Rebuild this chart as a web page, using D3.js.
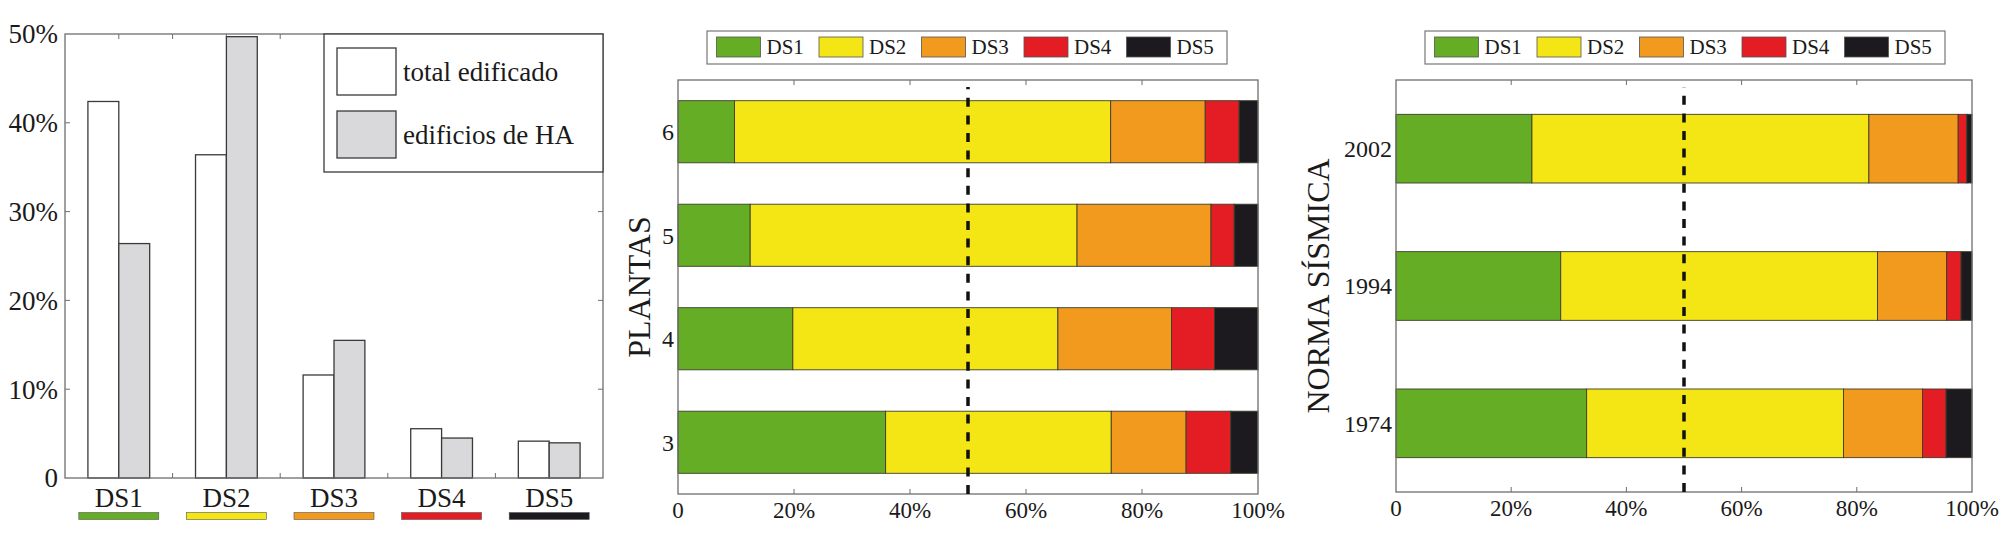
<!DOCTYPE html>
<html>
<head>
<meta charset="utf-8">
<script src="https://cdn.jsdelivr.net/npm/d3@7"></script>
<style>
  body { margin: 0; background: #fff; }
  svg text { font-family: "Liberation Serif", "DejaVu Serif", serif; fill: #1a1a1a; }
</style>
</head>
<body>
<script>
// damage states, shared by the three panels
const damageStates = ["DS1", "DS2", "DS3", "DS4", "DS5"]
const dsColors = ["#65ad24", "#f4e614", "#f29a1d", "#e41d25", "#1c1a1f"]

// left panel: share of buildings per damage state (%)
const totalEdificado = [42.4, 36.4, 11.6, 5.55, 4.15]
const edificiosHA = [26.4, 49.7, 15.5, 4.5, 3.96]
const pctTicksLeft = [0, 10, 20, 30, 40, 50]

// middle panel: number of storeys (%)
const plantasCats = ["3", "4", "5", "6"]
const plantasDS1 = [35.8, 19.8, 12.45, 9.75]
const plantasDS2 = [38.9, 45.7, 56.35, 64.85]
const plantasDS3 = [12.9, 19.6, 23.1, 16.3]
const plantasDS4 = [7.7, 7.4, 4.0, 5.85]
const plantasDS5 = [4.7, 7.5, 4.1, 3.25]

// right panel: seismic code (%)
const normaCats = ["1974", "1994", "2002"]
const normaDS1 = [33.1, 28.6, 23.6]
const normaDS2 = [44.6, 55.0, 58.5]
const normaDS3 = [13.7, 12.0, 15.5]
const normaDS4 = [4.1, 2.5, 1.5]
const normaDS5 = [4.5, 1.9, 0.9]

const pctTicks = [0, 20, 40, 60, 80, 100]
const pctLabel = d => d === 0 ? "0" : d + "%"

const width = 2008
const height = 540
const frameColor = "#6e6e6e"
const tickLen = 5

const svg = d3.select("body")
  .append("svg")
  .attr("width", width)
  .attr("height", height)

// ---------- left panel: grouped bars ----------
function drawGrouped() {
  let m = {left: 65, right: 603, top: 34, bottom: 478}
  const g = svg.append("g")

  let x = d3.scaleBand()
    .domain(damageStates)
    .range([m.left, m.right])
    .padding(0)

  let inner = d3.scaleBand()
    .domain(["total", "ha"])
    .range([0, x.bandwidth() * 0.574])

  let y = d3.scaleLinear()
    .domain([0, 50])
    .range([m.bottom, m.top])

  // ticks at every half category, top and bottom, drawn under the bars
  const halfTicks = d3.range(1, damageStates.length * 2).map(i => m.left + i * x.bandwidth() / 2)
  halfTicks.forEach(t => {
    g.append("line").attr("x1", t).attr("x2", t).attr("y1", m.bottom).attr("y2", m.bottom - tickLen)
      .attr("stroke", frameColor)
    g.append("line").attr("x1", t).attr("x2", t).attr("y1", m.top).attr("y2", m.top + tickLen)
      .attr("stroke", frameColor)
  })
  pctTicksLeft.slice(1, -1).forEach(t => {
    g.append("line").attr("x1", m.left).attr("x2", m.left + tickLen).attr("y1", y(t)).attr("y2", y(t))
      .attr("stroke", frameColor)
    g.append("line").attr("x1", m.right).attr("x2", m.right - tickLen).attr("y1", y(t)).attr("y2", y(t))
      .attr("stroke", frameColor)
  })

  const offset = (x.bandwidth() - inner.range()[1]) / 2
  const rows = damageStates.map((ds, i) => ({ds, total: totalEdificado[i], ha: edificiosHA[i]}))

  rows.forEach(r => {
    g.append("rect")
      .attr("x", x(r.ds) + offset + inner("total"))
      .attr("y", y(r.total))
      .attr("width", inner.bandwidth())
      .attr("height", y(0) - y(r.total))
      .attr("fill", "#fff")
      .attr("stroke", "#3a3a3a")
      .attr("stroke-width", 1.3)
    g.append("rect")
      .attr("x", x(r.ds) + offset + inner("ha"))
      .attr("y", y(r.ha))
      .attr("width", inner.bandwidth())
      .attr("height", y(0) - y(r.ha))
      .attr("fill", "#d9d9db")
      .attr("stroke", "#3a3a3a")
      .attr("stroke-width", 1.3)
  })

  // frame
  g.append("rect")
    .attr("x", m.left).attr("y", m.top)
    .attr("width", m.right - m.left).attr("height", m.bottom - m.top)
    .attr("fill", "none").attr("stroke", frameColor).attr("stroke-width", 1.3)

  // y tick labels
  g.selectAll(".ylab")
    .data(pctTicksLeft)
    .join("text")
    .attr("x", m.left - 7)
    .attr("y", d => y(d))
    .attr("dy", "0.35em")
    .attr("text-anchor", "end")
    .attr("font-size", 27)
    .text(d => d === 0 ? "0" : d + "%")

  // category labels with coloured keys
  damageStates.forEach((ds, i) => {
    const cx = x(ds) + x.bandwidth() / 2
    g.append("text")
      .attr("x", cx).attr("y", 507)
      .attr("text-anchor", "middle")
      .attr("font-size", 27)
      .text(ds)
    g.append("rect")
      .attr("x", cx - 40).attr("y", 512.5)
      .attr("width", 80).attr("height", 7)
      .attr("fill", dsColors[i])
      .attr("stroke", "#555").attr("stroke-width", 0.6)
  })

  // legend
  const lg = g.append("g")
  lg.append("rect")
    .attr("x", 324).attr("y", m.top)
    .attr("width", m.right - 324).attr("height", 172 - m.top)
    .attr("fill", "#fff").attr("stroke", "#3a3a3a").attr("stroke-width", 1.3)
  const legendItems = [["total edificado", "#fff"], ["edificios de HA", "#d9d9db"]]
  legendItems.forEach((item, i) => {
    const top = 48 + i * 63
    lg.append("rect")
      .attr("x", 337).attr("y", top)
      .attr("width", 59).attr("height", 47)
      .attr("fill", item[1]).attr("stroke", "#3a3a3a").attr("stroke-width", 1.3)
    lg.append("text")
      .attr("x", 403).attr("y", top + 33)
      .attr("font-size", 27)
      .text(item[0])
  })
}

// ---------- stacked horizontal bars ----------
function drawStacked(cfg) {
  let m = cfg.margin
  const g = svg.append("g")

  const rows = cfg.cats.map((c, i) => {
    const r = {cat: c}
    damageStates.forEach((ds, k) => { r[ds] = cfg.series[k][i] })
    return r
  })
  const stacked = d3.stack().keys(damageStates)(rows)

  let x = d3.scaleLinear()
    .domain([0, 100])
    .range([m.left, m.right])

  let y = d3.scaleLinear()
    .domain([0.5, cfg.cats.length + 0.5])
    .range([m.bottom, m.top])

  // x ticks top and bottom
  pctTicks.slice(1, -1).forEach(t => {
    g.append("line").attr("x1", x(t)).attr("x2", x(t)).attr("y1", m.bottom).attr("y2", m.bottom - tickLen)
      .attr("stroke", frameColor)
    g.append("line").attr("x1", x(t)).attr("x2", x(t)).attr("y1", m.top).attr("y2", m.top + tickLen)
      .attr("stroke", frameColor)
  })

  const half = cfg.barWidth / 2
  g.selectAll(".series")
    .data(stacked)
    .join("g")
    .attr("fill", (d, i) => dsColors[i])
    .selectAll("rect")
    .data(d => d.map((s, i) => ({s, i})))
    .join("rect")
    .attr("x", d => x(d.s[0]))
    .attr("y", d => y(d.i + 1 + half))
    .attr("width", d => x(d.s[1]) - x(d.s[0]))
    .attr("height", d => y(d.i + 1 - half) - y(d.i + 1 + half))
    .attr("stroke", "#3d3d2a")
    .attr("stroke-width", 0.9)

  // frame
  g.append("rect")
    .attr("x", m.left).attr("y", m.top)
    .attr("width", m.right - m.left).attr("height", m.bottom - m.top)
    .attr("fill", "none").attr("stroke", frameColor).attr("stroke-width", 1.3)

  // 50% reference
  g.append("line")
    .attr("x1", x(50)).attr("x2", x(50))
    .attr("y1", m.bottom).attr("y2", m.top + 7)
    .attr("stroke", "#111")
    .attr("stroke-width", 3.5)
    .attr("stroke-dasharray", "9,8.6")

  // tick labels
  g.selectAll(".xlab")
    .data(pctTicks)
    .join("text")
    .attr("x", d => x(d))
    .attr("y", m.bottom + 24)
    .attr("text-anchor", "middle")
    .attr("font-size", 23)
    .text(pctLabel)

  g.selectAll(".ylab")
    .data(cfg.cats)
    .join("text")
    .attr("x", m.left - 4)
    .attr("y", (d, i) => y(i + 1))
    .attr("dy", "0.35em")
    .attr("text-anchor", "end")
    .attr("font-size", 24)
    .text(d => d)

  g.append("text")
    .attr("transform", `translate(${cfg.labelX},${(m.top + m.bottom) / 2}) rotate(-90)`)
    .attr("text-anchor", "middle")
    .attr("font-size", 32)
    .text(cfg.label)

  // legend
  const lx = m.left + 29
  const lg = g.append("g")
  lg.append("rect")
    .attr("x", lx).attr("y", 31)
    .attr("width", 520).attr("height", 33)
    .attr("fill", "#fff").attr("stroke", "#777").attr("stroke-width", 1.2)
  damageStates.forEach((ds, i) => {
    const sx = lx + 9.5 + i * 102.5
    lg.append("rect")
      .attr("x", sx).attr("y", 37)
      .attr("width", 44).attr("height", 20)
      .attr("fill", dsColors[i]).attr("stroke", "#555").attr("stroke-width", 0.8)
    lg.append("text")
      .attr("x", sx + 50).attr("y", 54)
      .attr("font-size", 21)
      .text(ds)
  })
}

drawGrouped()

drawStacked({
  margin: {left: 678, right: 1258, top: 80, bottom: 494},
  cats: plantasCats,
  series: [plantasDS1, plantasDS2, plantasDS3, plantasDS4, plantasDS5],
  barWidth: 0.6,
  label: "PLANTAS",
  labelX: 650
})

drawStacked({
  margin: {left: 1396, right: 1972, top: 80, bottom: 492},
  cats: normaCats,
  series: [normaDS1, normaDS2, normaDS3, normaDS4, normaDS5],
  barWidth: 0.5,
  label: "NORMA SÍSMICA",
  labelX: 1329
})
</script>
</body>
</html>
